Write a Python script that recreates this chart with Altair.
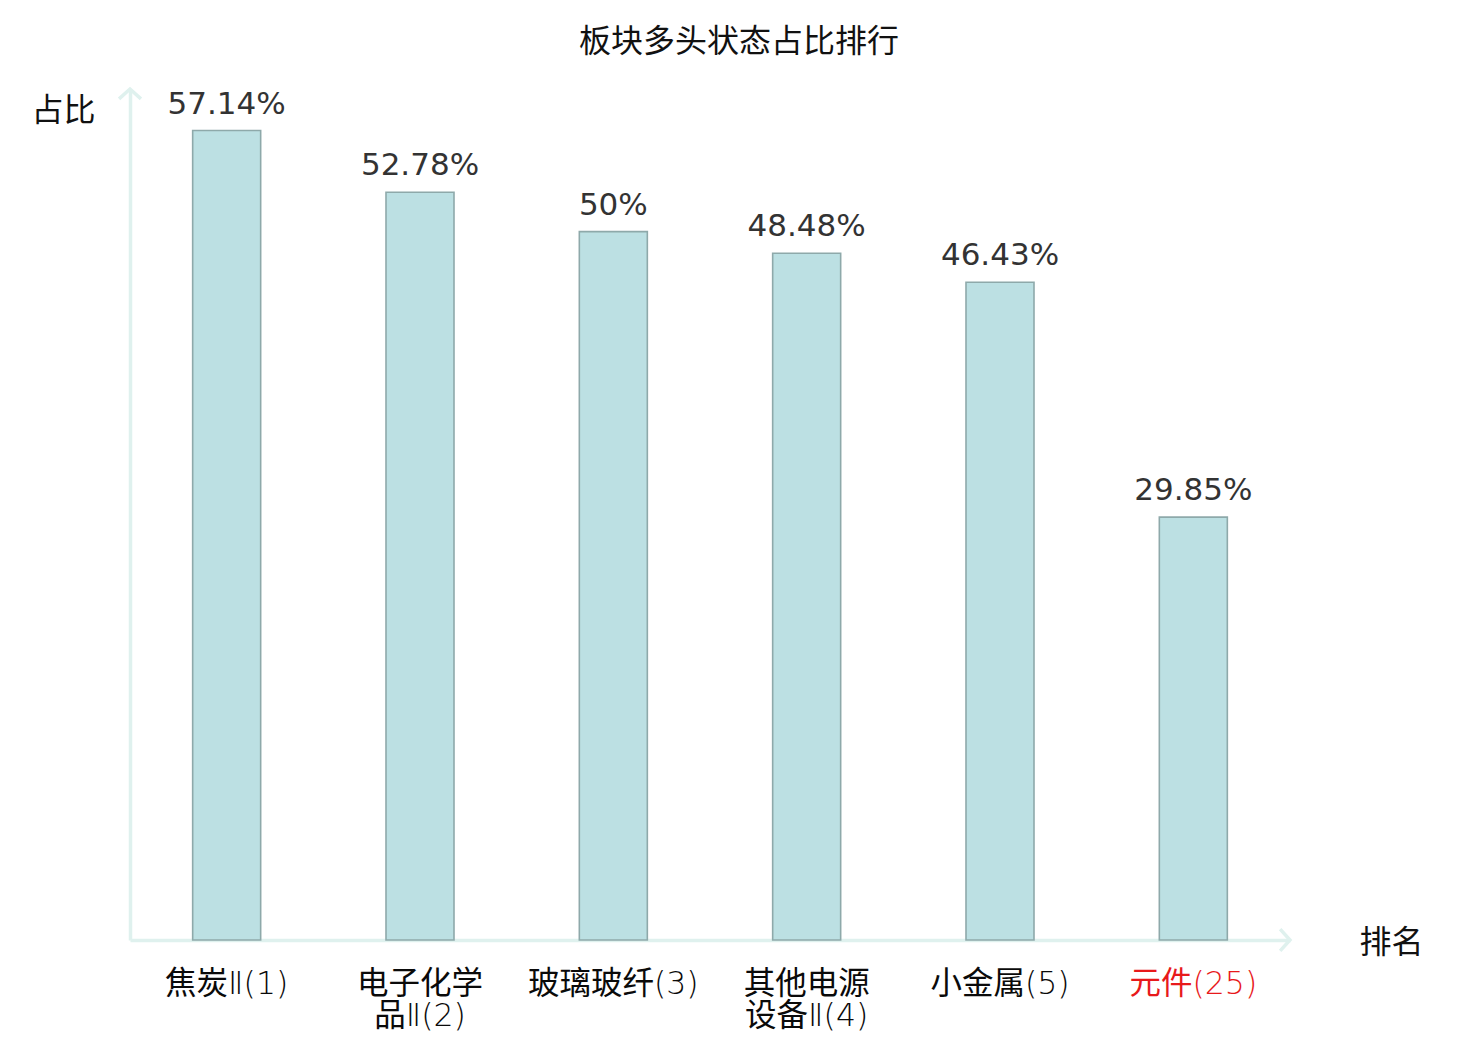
import altair as alt
import pandas as pd

categories = ["焦炭Ⅱ(1)", "电子化学|品Ⅱ(2)", "玻璃玻纤(3)", "其他电源|设备Ⅱ(4)", "小金属(5)", "元件(25)"]
values = [57.14, 52.78, 50.0, 48.48, 46.43, 29.85]
value_labels = ["57.14%", "52.78%", "50%", "48.48%", "46.43%", "29.85%"]

df = pd.DataFrame({"cat": categories, "val": values, "lab": value_labels})

W, H = 1160, 850
CJK = "Noto Sans CJK SC"
LABF = "DejaVu Sans Light, DejaVu Sans ExtraLight, Noto Sans CJK SC"

x_enc = alt.X(
    "cat:N", sort=None,
    scale=alt.Scale(paddingInner=0, paddingOuter=0),
    axis=alt.Axis(
        title="排名", titleAngle=0, titleX=1261, titleY=2, titleAlign="center",
        titleBaseline="middle", titleFont=CJK, titleFontSize=32, titleFontWeight="normal",
        titleColor="#111",
        labelExpr="split(datum.value, '|')", labelFont=LABF, labelFontSize=31.5,
        labelLineHeight=32.5, labelAngle=0, labelPadding=28, labelBaseline="top",
        labelFontWeight="normal",
        labelColor={"condition": {"test": "datum.value == '元件(25)'", "value": "#e8191b"}, "value": "#0a0a0a"},
        ticks=False, domainColor="#dff1ee", domainWidth=3.5, grid=False,
    ),
)
y_enc = alt.Y(
    "val:Q",
    scale=alt.Scale(domain=[0, 60], nice=False),
    axis=alt.Axis(
        title="占比", titleAngle=0, titleX=-67, titleY=20, titleAlign="center",
        titleBaseline="middle", titleFont=CJK, titleFontSize=32, titleFontWeight="normal",
        titleColor="#111",
        labels=False, ticks=False, grid=False, domainColor="#dff1ee", domainWidth=3.5,
    ),
)

bars = alt.Chart(df).mark_bar(size=68, color="#bce0e3", stroke="#8ea9aa", strokeWidth=1.6).encode(
    x=x_enc, y=y_enc
)
texts = alt.Chart(df).mark_text(
    baseline="alphabetic", dy=-17, fontSize=31, font="DejaVu Sans", color="#333"
).encode(x=alt.X("cat:N", sort=None), y="val:Q", text="lab:N")

arrow_df = pd.DataFrame({"k": ["y", "x"]})
up_arrow = alt.Chart(arrow_df.iloc[[0]]).mark_point(
    shape="M-1,0.9L0,0L1,0.9", size=480, filled=False, stroke="#dff1ee", strokeWidth=3.5, opacity=1
).encode(x=alt.value(0), y=alt.value(-1))
right_arrow = alt.Chart(arrow_df.iloc[[1]]).mark_point(
    shape="M-0.9,-1L0,0L-0.9,1", size=480, filled=False, stroke="#dff1ee", strokeWidth=3.5, opacity=1
).encode(x=alt.value(W), y=alt.value(H))

chart = alt.layer(bars, texts, up_arrow, right_arrow).properties(
    width=W, height=H,
    title=alt.TitleParams("板块多头状态占比排行", font=CJK, fontSize=32, fontWeight="normal",
                          color="#111", anchor="middle", dx=29, offset=23),
    autosize=alt.AutoSizeParams(type="none"),
    padding={"left": 122, "top": 82, "right": 182, "bottom": 92},
).configure_view(stroke=None)

chart.save("out.html", embed_options={"renderer": "svg", "actions": False})
